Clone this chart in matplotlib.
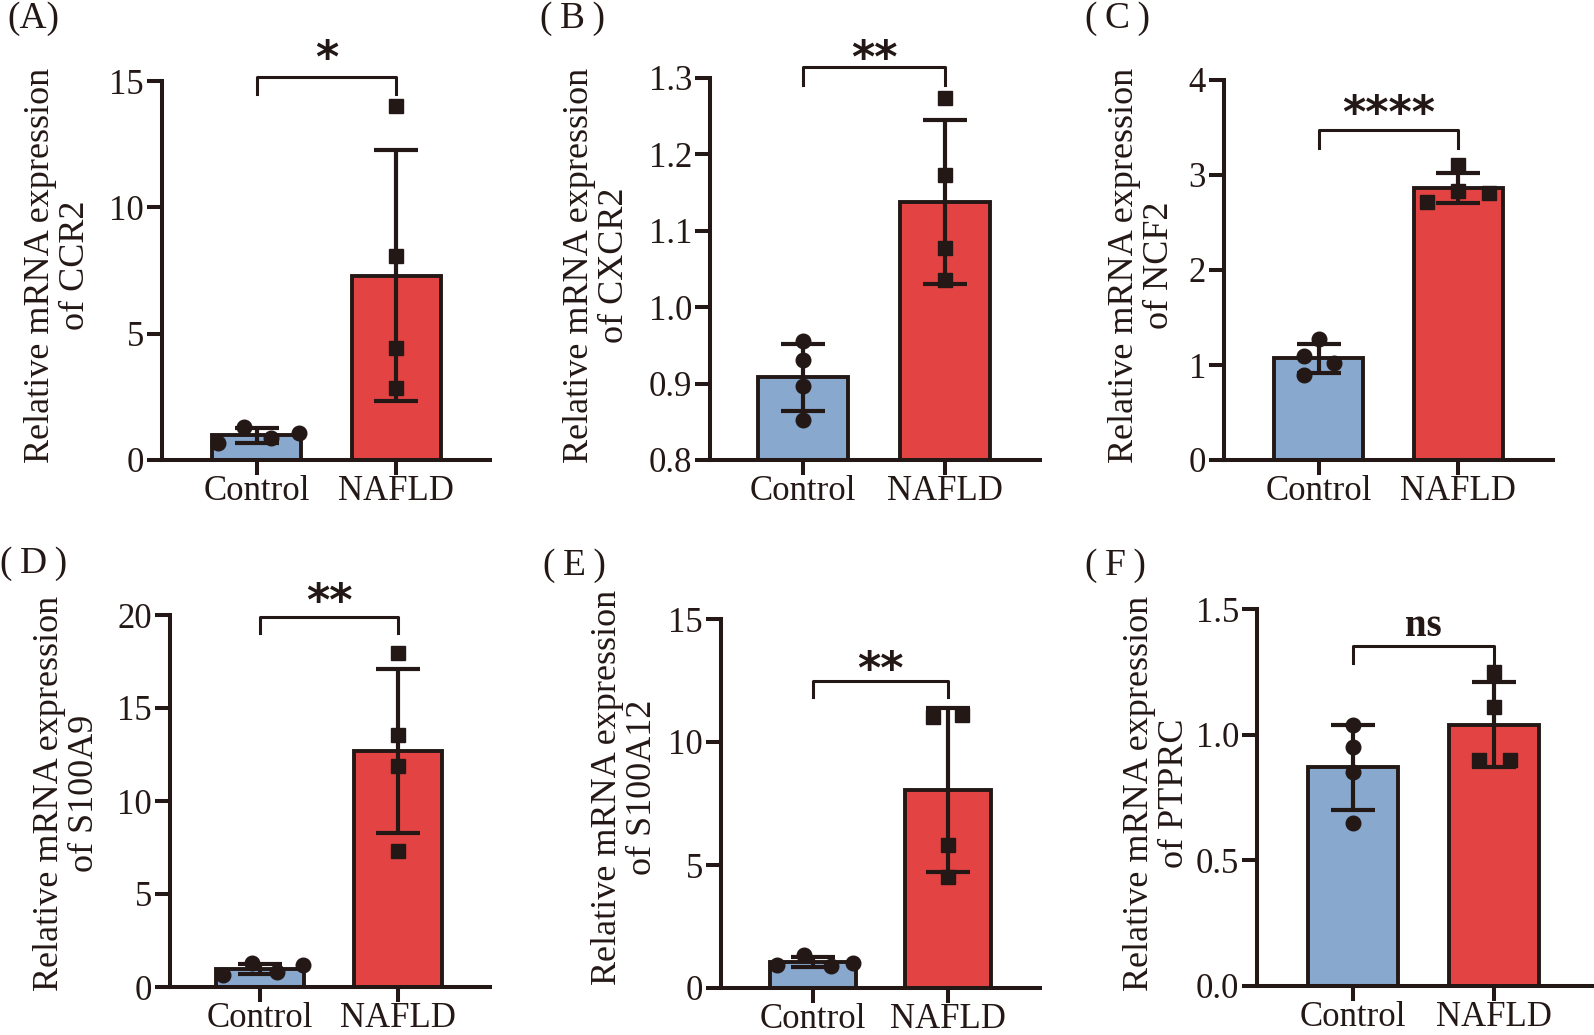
import numpy as np
import matplotlib
matplotlib.use("Agg")
import matplotlib.pyplot as plt

plt.rcParams['font.family'] = ['Liberation Serif', 'DejaVu Serif']

# data
groups = ["Control", "NAFLD"]
genes = ["CCR2", "CXCR2", "NCF2", "S100A9", "S100A12", "PTPRC"]
panel_tags = ["(A)", "(\u2009B\u2009)", "(\u2009C\u2009)", "(\u2009D\u2009)", "(\u2009E\u2009)", "(\u2009F\u2009)"]
signif = ["*", "**", "****", "**", "**", "ns"]

ctrl_mean = [0.97, 0.908, 1.07, 0.98, 1.04, 0.87]
ctrl_sd = [0.28, 0.044, 0.155, 0.27, 0.20, 0.17]
nafld_mean = [7.30, 1.138, 2.86, 12.68, 8.05, 1.04]
nafld_sd = [4.95, 0.107, 0.16, 4.40, 3.35, 0.17]

ctrl_points = [
    [0.67, 1.30, 0.88, 1.07],
    [0.956, 0.931, 0.897, 0.852],
    [1.27, 1.09, 1.02, 0.90],
    [0.65, 1.29, 0.80, 1.18],
    [0.93, 1.34, 0.89, 1.02],
    [1.04, 0.95, 0.85, 0.65],
]
nafld_points = [
    [14.0, 8.06, 4.44, 2.86],
    [1.274, 1.173, 1.077, 1.036],
    [3.10, 2.83, 2.81, 2.72],
    [17.96, 13.55, 11.88, 7.31],
    [11.0, 11.1, 5.8, 4.5],
    [1.25, 1.11, 0.90, 0.90],
]

y_ranges = [(0, 15), (0.8, 1.3), (0, 4), (0, 20), (0, 15), (0, 1.5)]
y_steps = [5, 0.1, 1, 5, 5, 0.5]
y_fmt = ["{:.0f}", "{:.1f}", "{:.0f}", "{:.0f}", "{:.0f}", "{:.1f}"]

# layout (pixels in a 1594x1035 canvas)
W, H = 1594, 1035
ax_px = [(162, 490, 81, 460), (710, 1040, 78, 460), (1224, 1553, 80, 460),
         (170, 490, 615, 987), (721, 1040, 619, 988), (1257, 1600, 609, 986)]
xlims = [(-0.683, 1.676), (-0.655, 1.669), (-0.683, 1.683),
         (-0.652, 1.667), (-0.681, 1.681), (-0.679, 1.75)]
label_px = [(58, 265), (597, 265), (1142, 265), (67, 793), (625, 787), (1157, 793)]
tag_px = [(7, 19), (540, 19), (1085, 19), (0, 564), (543, 566), (1085, 566)]
# bracket (bar y, leg end y, text baseline y) in data units
brackets = [(15.16, 14.48, 15.36), (1.314, 1.291, 1.308), (3.47, 3.28, 3.50),
            (19.9, 19.03, 20.0), (12.48, 11.83, 12.39), (1.353, 1.285, 1.393)]
ctrl_dx = [[-0.28, -0.09, 0.10, 0.30], [0, 0, 0, 0], [0, -0.11, 0.11, -0.11],
           [-0.27, -0.06, 0.12, 0.31], [-0.27, -0.07, 0.13, 0.30], [0, 0, 0, 0]]
nafld_dx = [[0, 0, 0, 0], [0, 0, 0, 0], [0, 0, 0.22, -0.22],
            [0, 0, 0, 0], [-0.11, 0.10, 0, 0], [0, 0, -0.11, 0.11]]

ink = '#231815'
blue = '#88A8CE'
red = '#E34443'

fig = plt.figure(figsize=(W / 100, H / 100), dpi=100)

for i in range(6):
    l, r, t, b = ax_px[i]
    ax = fig.add_axes([l / W, 1 - b / H, (r - l) / W, (b - t) / H])
    x = np.array([0, 1])
    ax.bar(x, [ctrl_mean[i], nafld_mean[i]], width=0.64, color=[blue, red],
           edgecolor=ink, linewidth=2.8, zorder=2)
    ax.errorbar(x, [ctrl_mean[i], nafld_mean[i]], yerr=[ctrl_sd[i], nafld_sd[i]],
                fmt='none', ecolor=ink, elinewidth=3, capsize=16, capthick=3, zorder=3)
    ax.plot(0 + np.array(ctrl_dx[i]), ctrl_points[i], 'o', ms=10.5, color=ink,
            zorder=4, clip_on=False)
    ax.plot(1 + np.array(nafld_dx[i]), nafld_points[i], 's', ms=10, color=ink,
            zorder=4, clip_on=False)

    lo, hi = y_ranges[i]
    ax.set_ylim(lo, hi)
    ax.set_xlim(*xlims[i])
    ticks = np.arange(lo, hi + y_steps[i] / 2, y_steps[i])
    ax.set_yticks(ticks)
    ax.set_yticklabels([y_fmt[i].format(v) for v in ticks])
    ax.set_xticks(x)
    ax.set_xticklabels(groups)
    ax.tick_params(axis='both', labelsize=25, width=2.9, length=11, color=ink,
                   labelcolor=ink)
    ax.tick_params(axis='y', pad=2)
    ax.tick_params(axis='x', pad=0)
    for s in ['top', 'right']:
        ax.spines[s].set_visible(False)
    for s in ['left', 'bottom']:
        ax.spines[s].set_linewidth(2.9)
        ax.spines[s].set_color(ink)

    br, leg, ty = brackets[i]
    ax.plot([0, 0, 1, 1], [leg, br, br, leg], color=ink, lw=2.2, clip_on=False)
    if signif[i] == 'ns':
        ax.text(0.5, ty, 'ns', ha='center', va='baseline', fontsize=28,
                fontweight='bold', color=ink)
    else:
        ax.text(0.5, ty, signif[i], ha='center', va='baseline', fontsize=32,
                family='DejaVu Sans', fontweight='bold', color=ink)

    cx, cy = label_px[i]
    fig.text(cx / W, 1 - cy / H, "Relative mRNA expression\nof " + genes[i],
             rotation=90, ha='center', va='center', fontsize=26, linespacing=1.08,
             multialignment='center', color=ink)
    tx, tyy = tag_px[i]
    fig.text(tx / W, 1 - tyy / H, panel_tags[i], ha='left', va='center',
             fontsize=27, color=ink)

fig.savefig("out.png", dpi=100)
